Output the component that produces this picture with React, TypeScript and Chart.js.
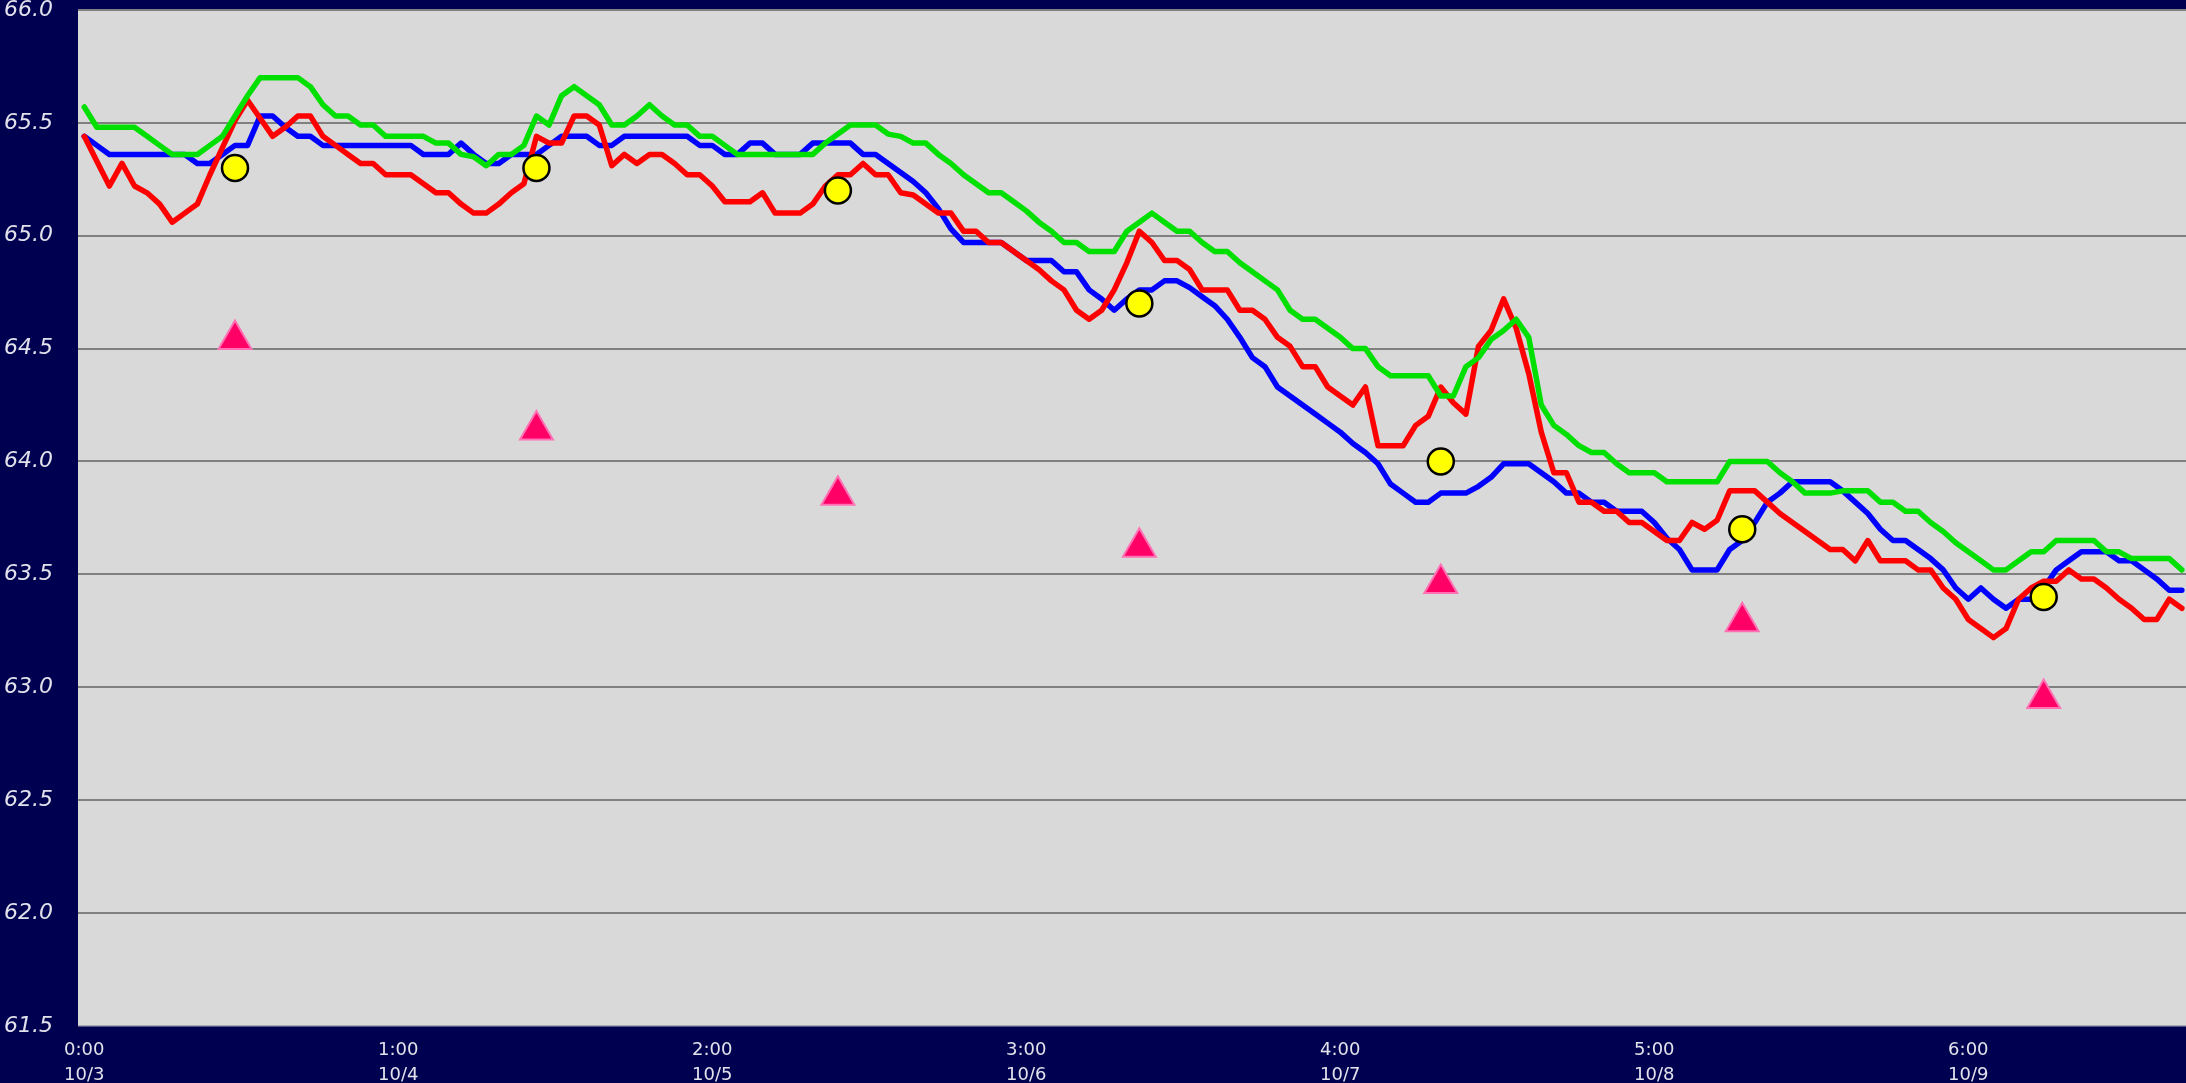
import React, { useEffect, useRef } from "react";
import { Chart, registerables } from "chart.js";

Chart.register(...registerables);

// Hourly series (168 hours, 0:00 10/3 onward)
const blueSeries = [
  65.44, 65.40, 65.36, 65.36, 65.36, 65.36, 65.36, 65.36, 65.36, 65.32,
  65.32, 65.36, 65.40, 65.40, 65.53, 65.53, 65.48, 65.44, 65.44, 65.40,
  65.40, 65.40, 65.40, 65.40, 65.40, 65.40, 65.40, 65.36, 65.36, 65.36,
  65.41, 65.36, 65.32, 65.32, 65.36, 65.36, 65.36, 65.40, 65.44, 65.44,
  65.44, 65.40, 65.40, 65.44, 65.44, 65.44, 65.44, 65.44, 65.44, 65.40,
  65.40, 65.36, 65.36, 65.41, 65.41, 65.36, 65.36, 65.36, 65.41, 65.41,
  65.41, 65.41, 65.36, 65.36, 65.32, 65.28, 65.24, 65.19, 65.12, 65.03,
  64.97, 64.97, 64.97, 64.97, 64.93, 64.89, 64.89, 64.89, 64.84, 64.84,
  64.76, 64.72, 64.67, 64.72, 64.76, 64.76, 64.80, 64.80, 64.77, 64.73,
  64.69, 64.63, 64.55, 64.46, 64.42, 64.33, 64.29, 64.25, 64.21, 64.17,
  64.13, 64.08, 64.04, 63.99, 63.90, 63.86, 63.82, 63.82, 63.86, 63.86,
  63.86, 63.89, 63.93, 63.99, 63.99, 63.99, 63.95, 63.91, 63.86, 63.86,
  63.82, 63.82, 63.78, 63.78, 63.78, 63.73, 63.66, 63.61, 63.52, 63.52,
  63.52, 63.61, 63.65, 63.73, 63.82, 63.86, 63.91, 63.91, 63.91, 63.91,
  63.87, 63.82, 63.77, 63.70, 63.65, 63.65, 63.61, 63.57, 63.52, 63.44,
  63.39, 63.44, 63.39, 63.35, 63.39, 63.39, 63.44, 63.52, 63.56, 63.60,
  63.60, 63.60, 63.56, 63.56, 63.52, 63.48, 63.43, 63.43,
];

const redSeries = [
  65.44, 65.33, 65.22, 65.32, 65.22, 65.19, 65.14, 65.06, 65.10, 65.14,
  65.27, 65.39, 65.51, 65.60, 65.52, 65.44, 65.48, 65.53, 65.53, 65.44,
  65.40, 65.36, 65.32, 65.32, 65.27, 65.27, 65.27, 65.23, 65.19, 65.19,
  65.14, 65.10, 65.10, 65.14, 65.19, 65.23, 65.44, 65.41, 65.41, 65.53,
  65.53, 65.49, 65.31, 65.36, 65.32, 65.36, 65.36, 65.32, 65.27, 65.27,
  65.22, 65.15, 65.15, 65.15, 65.19, 65.10, 65.10, 65.10, 65.14, 65.22,
  65.27, 65.27, 65.32, 65.27, 65.27, 65.19, 65.18, 65.14, 65.10, 65.10,
  65.02, 65.02, 64.97, 64.97, 64.93, 64.89, 64.85, 64.80, 64.76, 64.67,
  64.63, 64.67, 64.76, 64.88, 65.02, 64.97, 64.89, 64.89, 64.85, 64.76,
  64.76, 64.76, 64.67, 64.67, 64.63, 64.55, 64.51, 64.42, 64.42, 64.33,
  64.29, 64.25, 64.33, 64.07, 64.07, 64.07, 64.16, 64.20, 64.33, 64.26,
  64.21, 64.51, 64.58, 64.72, 64.59, 64.39, 64.13, 63.95, 63.95, 63.82,
  63.82, 63.78, 63.78, 63.73, 63.73, 63.69, 63.65, 63.65, 63.73, 63.70,
  63.74, 63.87, 63.87, 63.87, 63.82, 63.77, 63.73, 63.69, 63.65, 63.61,
  63.61, 63.56, 63.65, 63.56, 63.56, 63.56, 63.52, 63.52, 63.44, 63.39,
  63.30, 63.26, 63.22, 63.26, 63.39, 63.44, 63.47, 63.47, 63.52, 63.48,
  63.48, 63.44, 63.39, 63.35, 63.30, 63.30, 63.39, 63.35,
];

const greenSeries = [
  65.57, 65.48, 65.48, 65.48, 65.48, 65.44, 65.40, 65.36, 65.36, 65.36,
  65.40, 65.44, 65.53, 65.62, 65.70, 65.70, 65.70, 65.70, 65.66, 65.58,
  65.53, 65.53, 65.49, 65.49, 65.44, 65.44, 65.44, 65.44, 65.41, 65.41,
  65.36, 65.35, 65.31, 65.36, 65.36, 65.40, 65.53, 65.49, 65.62, 65.66,
  65.62, 65.58, 65.49, 65.49, 65.53, 65.58, 65.53, 65.49, 65.49, 65.44,
  65.44, 65.40, 65.36, 65.36, 65.36, 65.36, 65.36, 65.36, 65.36, 65.41,
  65.45, 65.49, 65.49, 65.49, 65.45, 65.44, 65.41, 65.41, 65.36, 65.32,
  65.27, 65.23, 65.19, 65.19, 65.15, 65.11, 65.06, 65.02, 64.97, 64.97,
  64.93, 64.93, 64.93, 65.02, 65.06, 65.10, 65.06, 65.02, 65.02, 64.97,
  64.93, 64.93, 64.88, 64.84, 64.80, 64.76, 64.67, 64.63, 64.63, 64.59,
  64.55, 64.50, 64.50, 64.42, 64.38, 64.38, 64.38, 64.38, 64.29, 64.29,
  64.42, 64.46, 64.54, 64.58, 64.63, 64.55, 64.25, 64.16, 64.12, 64.07,
  64.04, 64.04, 63.99, 63.95, 63.95, 63.95, 63.91, 63.91, 63.91, 63.91,
  63.91, 64.00, 64.00, 64.00, 64.00, 63.95, 63.91, 63.86, 63.86, 63.86,
  63.87, 63.87, 63.87, 63.82, 63.82, 63.78, 63.78, 63.73, 63.69, 63.64,
  63.60, 63.56, 63.52, 63.52, 63.56, 63.60, 63.60, 63.65, 63.65, 63.65,
  63.65, 63.60, 63.60, 63.57, 63.57, 63.57, 63.57, 63.52,
];

// Daily markers (noon each day)
const dailyHours = [12, 36, 60, 84, 108, 132, 156];
const circleValues = [65.3, 65.3, 65.2, 64.7, 64.0, 63.7, 63.4];
const triangleValues = [64.54, 64.14, 63.85, 63.62, 63.46, 63.29, 62.95];

// X tick labels every 25 hours
const tickTimes = ["0:00", "1:00", "2:00", "3:00", "4:00", "5:00", "6:00"];
const tickDates = ["10/3", "10/4", "10/5", "10/6", "10/7", "10/8", "10/9"];
const labelInterval = 25;

const NAVY = "#000050";
const PLOT_BG = "#d9d9d9";
const TEXT = "#e2e2ec";

const plotBackground = {
  id: "plotBackground",
  beforeDraw(chart: any) {
    const { ctx, chartArea } = chart;
    if (!chartArea) return;
    ctx.save();
    ctx.fillStyle = PLOT_BG;
    ctx.fillRect(chartArea.left, chartArea.top, chartArea.right - chartArea.left, chartArea.bottom - chartArea.top);
    ctx.restore();
  },
};

export default function App() {
  const canvasRef = useRef<HTMLCanvasElement | null>(null);

  useEffect(() => {
    const canvas = canvasRef.current;
    if (!canvas) return;
    const toXY = (arr: number[]) => arr.map((v, i) => ({ x: i, y: v }));
    const lineStyle = {
      borderWidth: 5.5,
      pointRadius: 0,
      tension: 0,
      borderJoinStyle: "round" as const,
      borderCapStyle: "round" as const,
    };
    const chart = new Chart(canvas, {
      type: "line",
      data: {
        datasets: [
          {
            type: "scatter",
            label: "daily circle",
            data: dailyHours.map((h, k) => ({ x: h, y: circleValues[k] })),
            pointStyle: "circle",
            pointRadius: 13,
            pointBackgroundColor: "#ffff00",
            pointBorderColor: "#000000",
            pointBorderWidth: 2.5,
            showLine: false,
          } as any,
          {
            type: "scatter",
            label: "daily triangle",
            data: dailyHours.map((h, k) => ({ x: h, y: triangleValues[k] })),
            pointStyle: "triangle",
            pointRadius: 19,
            pointBackgroundColor: "#ff0066",
            pointBorderColor: "#ff70b4",
            pointBorderWidth: 2,
            showLine: false,
          } as any,
          { label: "green", data: toXY(greenSeries), borderColor: "#00e000", ...lineStyle },
          { label: "red", data: toXY(redSeries), borderColor: "#ff0000", ...lineStyle },
          { label: "blue", data: toXY(blueSeries), borderColor: "#0000ff", ...lineStyle },
        ],
      },
      options: {
        animation: false,
        responsive: false,
        devicePixelRatio: 1,
        layout: { autoPadding: false, padding: { left: 4, top: 0, right: 0, bottom: 0 } },
        plugins: {
          legend: { display: false },
          tooltip: { enabled: false },
          title: { display: false },
        },
        scales: {
          x: {
            type: "linear",
            min: -0.5,
            max: 167.33,
            afterBuildTicks: (scale: any) => {
              scale.ticks = tickTimes.map((_, k) => ({ value: k * labelInterval }));
            },
            afterFit: (scale: any) => {
              scale.height = 57;
            },
            ticks: {
              autoSkip: false,
              maxRotation: 0,
              minRotation: 0,
              padding: 4,
              color: TEXT,
              font: { family: "'DejaVu Sans', Verdana, sans-serif", size: 18, lineHeight: 1.4 },
              callback: (v: any) => {
                const k = Math.round(Number(v) / labelInterval);
                return [tickTimes[k], tickDates[k]];
              },
            },
            grid: { display: false },
            border: { display: false },
          },
          y: {
            type: "linear",
            min: 61.5,
            max: 66,
            afterFit: (scale: any) => {
              scale.width = 74;
            },
            ticks: {
              stepSize: 0.5,
              crossAlign: "far",
              padding: 0,
              color: TEXT,
              font: { family: "'DejaVu Sans', Verdana, sans-serif", size: 22, style: "italic", lineHeight: 0.9 },
              callback: (v: any) => Number(v).toFixed(1),
            },
            grid: {
              drawTicks: false,
              color: (ctx: any) => (ctx.tick && ctx.tick.value === 61.5 ? "#a8a8b4" : "#808080"),
              lineWidth: (ctx: any) => (ctx.tick && ctx.tick.value === 61.5 ? 1.5 : 2),
            },
            border: { display: false },
          },
        },
      },
      plugins: [plotBackground],
    });
    return () => chart.destroy();
  }, []);

  return (
    <div
      style={{
        position: "fixed",
        left: 0,
        top: 0,
        width: 2186,
        height: 1083,
        background: NAVY,
        overflow: "hidden",
      }}
    >
      <canvas ref={canvasRef} width={2186} height={1083} style={{ display: "block", width: 2186, height: 1083 }} />
    </div>
  );
}
